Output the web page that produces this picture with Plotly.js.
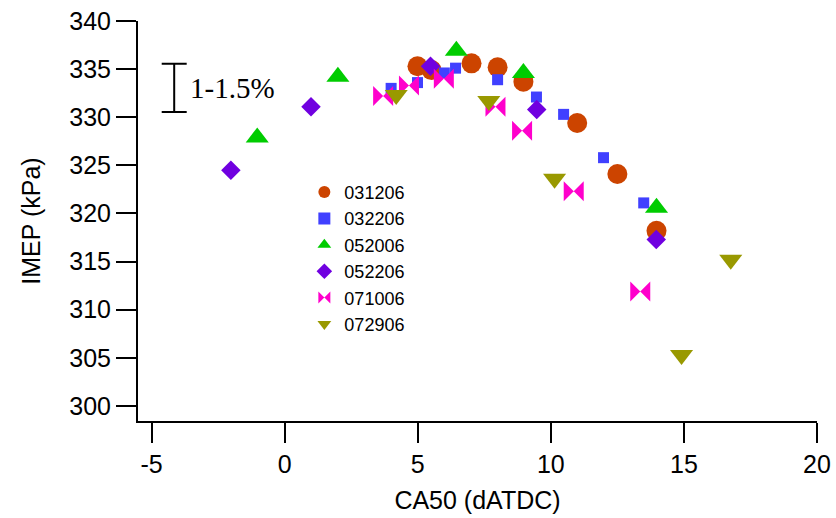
<!DOCTYPE html>
<html>
<head>
<meta charset="utf-8">
<script src="https://cdn.plot.ly/plotly-3.0.1.min.js"></script>
<style>
  html, body { margin: 0; padding: 0; background: #fff; }
  #chart { width: 836px; height: 518px; }
</style>
</head>
<body>
<div id="chart"></div>
<script>
// Series names (legend labels)
const seriesNames = ["031206", "032206", "052006", "052206", "071006", "072906"];

// CA50 (dATDC) values per series
const x031206 = [4.99, 5.52, 7.02, 8.0, 8.97, 10.99, 12.5, 13.97];
const x032206 = [4.0, 4.99, 6.0, 6.42, 8.0, 9.46, 10.48, 11.98, 13.49];
const x052006 = [-1.03, 2.0, 6.45, 8.97, 13.97];
const x052206 = [-2.02, 0.99, 5.48, 9.47, 13.96];
const x071006 = [3.7, 4.67, 5.98, 7.92, 8.92, 10.86, 13.36];
const x072906 = [4.19, 7.67, 10.14, 16.76, 14.91];

// IMEP (kPa) values per series
const y031206 = [335.3, 334.9, 335.6, 335.2, 333.7, 329.4, 324.1, 318.2];
const y032206 = [333.0, 333.6, 334.6, 335.1, 333.9, 332.1, 330.3, 325.8, 321.1];
const y052006 = [327.9, 334.2, 336.9, 334.6, 320.6];
const y052206 = [324.5, 331.1, 335.3, 330.8, 317.3];
const y071006 = [332.2, 333.3, 334.0, 331.1, 328.6, 322.3, 311.9];
const y072906 = [332.3, 331.7, 323.6, 315.2, 305.3];

// Uncertainty indicator (1-1.5%)
const errX = [-4.15];
const errY = [333.06];
const errHalf = [2.51];
const errLabel = "1-1.5%";

// Axis ticks
const xTicks = [-5, 0, 5, 10, 15, 20];
const yTicks = [300, 305, 310, 315, 320, 325, 330, 335, 340];

const xs = [x031206, x032206, x052006, x052206, x071006, x072906];
const ys = [y031206, y032206, y052006, y052206, y071006, y072906];
const colors = ["#CC4400", "#4040FF", "#00CC00", "#7000E0", "#FF00CC", "#999900"];
const symbols = ["circle", "square", "triangle-up", "diamond", "bowtie", "triangle-down"];
const sizes = [20, 11, 20, 15, 20, 20];

const traces = seriesNames.map((name, i) => ({
  type: "scatter",
  mode: "markers",
  name: name,
  x: xs[i],
  y: ys[i],
  marker: { color: colors[i], symbol: symbols[i], size: sizes[i], line: { width: 0 } },
  hoverinfo: "x+y+name"
}));

traces.push({
  type: "scatter",
  mode: "markers",
  x: errX,
  y: errY,
  showlegend: false,
  hoverinfo: "skip",
  marker: { color: "rgba(0,0,0,0)", size: 1 },
  error_y: { type: "data", array: errHalf, visible: true, color: "#000", thickness: 2, width: 12.5 }
});

const font = "Liberation Sans, Arial, sans-serif";

const layout = {
  width: 836,
  height: 518,
  margin: { l: 138, r: 19, t: 21, b: 97, pad: 0 },
  paper_bgcolor: "#fff",
  plot_bgcolor: "#fff",
  showlegend: true,
  legend: {
    x: 0.245, y: 0.618, xanchor: "left", yanchor: "top",
    bgcolor: "rgba(0,0,0,0)",
    font: { family: font, size: 18, color: "#000" },
    itemsizing: "constant",
    tracegroupgap: 0
  },
  xaxis: {
    range: [-5.51, 20],
    tickvals: xTicks,
    ticktext: xTicks.map(String),
    showgrid: false, zeroline: false,
    showline: true, linecolor: "#000", linewidth: 2,
    ticks: "outside", ticklen: 20, tickwidth: 2, tickcolor: "#000",
    tickfont: { family: font, size: 25, color: "#000" },
    title: { text: "CA50 (dATDC)", font: { family: font, size: 25, color: "#000" }, standoff: 14 },
    automargin: false
  },
  yaxis: {
    range: [298.44, 340],
    tickvals: yTicks,
    ticktext: yTicks.map(String),
    showgrid: false, zeroline: false,
    showline: true, linecolor: "#000", linewidth: 2,
    ticks: "outside", ticklen: 20, tickwidth: 2, tickcolor: "#000",
    tickfont: { family: font, size: 25, color: "#000" },
    title: { text: "IMEP (kPa)", font: { family: font, size: 25, color: "#000" }, standoff: 22 },
    automargin: false
  },
  annotations: [{
    x: errX[0] + 0.53, y: errY[0], xref: "x", yref: "y",
    xanchor: "left", yanchor: "middle",
    text: errLabel, showarrow: false,
    font: { family: "Liberation Serif, Times New Roman, serif", size: 29, color: "#000" }
  }]
};

Plotly.newPlot("chart", traces, layout, { displayModeBar: false, staticPlot: true });
</script>
</body>
</html>
